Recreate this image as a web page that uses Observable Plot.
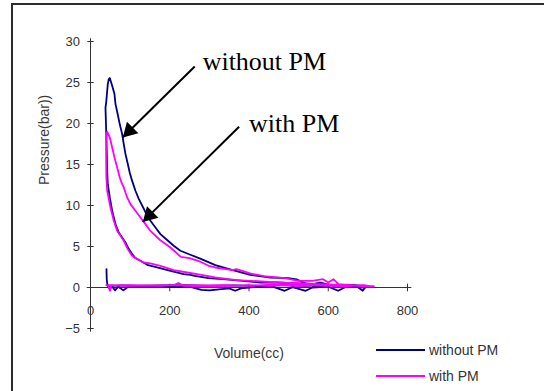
<!DOCTYPE html>
<html>
<head>
<meta charset="utf-8">
<script src="https://cdn.jsdelivr.net/npm/d3@7"></script>
<script src="https://cdn.jsdelivr.net/npm/@observablehq/plot@0.6"></script>
<style>
  body { margin: 0; background: #fff; }
  #wrap { position: relative; width: 544px; height: 391px; overflow: hidden; background: #fff; font-family: "Liberation Sans", Arial, sans-serif; }
  #frame { position: absolute; left: 11px; top: 3px; width: 600px; height: 500px; border-left: 2px solid #2b2b2b; border-top: 2px solid #2b2b2b; }
  #chart { position: absolute; left: 0; top: 0; }
  .leg { position: absolute; left: 376px; font-size: 14px; color: #333; }
  .leg .sw { position: absolute; left: 0; width: 49px; height: 2px; }
  .leg .lb { position: absolute; left: 53px; top: -9px; white-space: nowrap; line-height: 18px; }
</style>
</head>
<body>
<div id="wrap">
  <div id="frame"></div>
  <div id="chart"></div>
  <div id="legend"></div>
</div>
<script>
// ---- data (volume cc, pressure bar) ----
const seriesNames = ["without PM", "with PM"];
const seriesColors = ["#000080", "#ff00ff"];

const withoutPM = [
  [40.3,2.24],[41,1.0],[43,0.2],[48,-0.1],[55,0.1],[62,-0.35],[70,0.1],[83,-0.35],[95,0.1],[150,0.1],
  [200,0.15],[250,0.1],[280,-0.3],[300,-0.35],[330,-0.2],[350,-0.1],[365,-0.4],[380,-0.1],[420,0.1],
  [460,0.1],[490,-0.4],[510,0.05],[543,-0.4],[560,0.0],[600,0.1],[625,-0.4],[645,0.1],[670,0.2],[687,-0.4],[695,0.1],
  [692,0.2],[648,0.33],[604,0.33],[560,0.41],[517,0.49],[473,0.61],[429,0.61],[385,0.82],[342,0.98],[298,1.15],
  [263,1.43],[252,1.55],[235,1.63],[202,2.04],[168,2.44],[143,2.77],[126,3.26],[113.4,3.59],[105.1,4.07],
  [96.6,4.68],[88.2,5.49],[79.9,6.10],[71.3,6.71],[63,7.73],[54.7,9.35],[48.7,10.98],[43.6,12.6],[42.1,14.23],
  [41.6,15.45],[40.3,17.9],[37.8,21.95],[39.6,22.56],[43.6,24.8],[46.1,25.4],[48.7,25.54],
  [54.7,24.6],[60.5,23.6],[63,22.4],[68.8,21.1],[73.9,19.9],[79.9,18.7],[83.9,17.5],[88.2,16.3],[94,15.1],
  [99.1,14.0],[105.1,13.0],[113.4,11.8],[121.8,10.8],[132.9,9.76],[141.2,8.95],[151.3,8.13],[163.9,7.32],
  [176.5,6.51],[193.4,5.79],[210,5.09],[226.9,4.48],[252,3.99],[280,3.46],[315,2.73],[350,2.24],[403,1.55],
  [454,1.22],[499,1.15],[520,1.0],[542,0.49],[560,0.41],[580,0.6],[612,0.2],[648,0.2],[691,0.0],
  [670,0.3],[630,0.25],[590,0.3],[540,0.2],[480,0.3],[420,0.2],[360,0.25],[300,0.2],[240,0.3],[180,0.25],
  [120,0.2],[80,0.25],[50,0.2],[42,0.3]
];

const withPM = [
  [40,0.3],[45,0.2],[49,-0.4],[53,0.3],[80,0.2],[120,0.2],[180,0.2],[210,0.3],[222,0.55],[235,0.2],[300,0.15],
  [350,0.2],[400,0.3],[450,0.2],[500,0.35],[550,0.3],[600,0.2],[650,0.35],[690,0.1],[715,0.15],
  [695,0.2],[648,0.33],[578,0.41],[534,0.49],[473,0.61],[403,0.82],[368,0.9],[315,1.22],[280,1.55],[244,1.83],
  [210,2.12],[176.5,2.65],[151,2.93],[134,3.05],[118,3.46],[105,3.87],[94,4.68],[84,5.69],[75.6,6.3],[67.3,6.91],
  [58.7,8.13],[50.4,9.76],[42.1,11.8],[40,13.4],[39.5,15.5],[39.6,18.2],[42,19.0],
  [48.7,18.3],[54.7,17.07],[60.5,15.85],[67.3,14.63],[73.9,13.41],[77.4,12.9],[83.9,12.2],[92.5,10.98],
  [100.8,10.17],[113.4,9.35],[126.1,8.54],[138.7,7.73],[149.2,7.0],[175.5,5.79],[201.7,4.88],[227.9,3.74],
  [249.8,3.59],[271.8,3.26],[298,2.65],[315,2.44],[341.6,2.24],[359,2.12],[368,2.24],[377,2.12],[403,1.71],
  [438,1.39],[490,1.15],[525,0.81],[560,0.81],[587,1.02],[600,0.61],[613,1.02],[626,0.41],[648,0.33],
  [691,0.2],[713,0.1],
  [690,0.3],[640,0.15],[580,0.3],[520,0.2],[460,0.35],[400,0.2],[340,0.3],[280,0.25],[220,0.3],[160,0.25],
  [100,0.3],[60,0.25],[45,0.3]
];

const xTicks = [0, 200, 400, 600, 800];
const yTicks = [-5, 0, 5, 10, 15, 20, 25, 30];
const xTitle = "Volume(cc)";
const yTitle = "Pressure(bar))";

// annotations: label, label position, arrow start, arrow tip (data units)
const annotLabels = ["without PM", "with PM"];
const annotTextX = [283, 400];
const annotTextY = [27.5, 20.0];
const arrowFromX = [263, 375];
const arrowFromY = [26.95, 19.6];
const arrowToX = [81.2, 131.8];
const arrowToY = [18.3, 8.0];

// ---- build ----
const annots = annotLabels.map((t, i) => ({
  t, tx: annotTextX[i], ty: annotTextY[i],
  x1: arrowFromX[i], y1: arrowFromY[i], x2: arrowToX[i], y2: arrowToY[i]
}));

const axisColor = "#333";
const fmt = d => d < 0 ? "\u2212" + Math.abs(d) : String(d);

const chart = Plot.plot({
  width: 544,
  height: 391,
  marginLeft: 90,
  marginRight: 137,
  marginTop: 41,
  marginBottom: 63,
  x: { domain: [0, 800], axis: null },
  y: { domain: [-5, 30], axis: null },
  style: { fontFamily: "'Liberation Sans', Arial, sans-serif", background: "transparent", overflow: "visible" },
  marks: [
    Plot.ruleX([0], { y1: -5, y2: 30, stroke: axisColor, strokeWidth: 1 }),
    Plot.ruleY([0], { x1: 0, x2: 800, stroke: axisColor, strokeWidth: 1 }),
    Plot.dot(xTicks, { x: d => d, y: 0, symbol: "plus", r: 2.6, stroke: axisColor, strokeWidth: 1 }),
    Plot.dot(yTicks, { x: 0, y: d => d, symbol: "plus", r: 2.2, stroke: axisColor, strokeWidth: 1 }),
    Plot.text(xTicks, { x: d => d, y: 0, dy: 23.3, text: fmt, fontSize: 13, fill: axisColor }),
    Plot.text(yTicks, { x: 0, y: d => d, dx: -10.5, text: fmt, textAnchor: "end", fontSize: 13, fill: axisColor }),
    Plot.text([xTitle], { frameAnchor: "bottom", dy: 29.5, text: d => d, fontSize: 14, fill: "#3a3a3a" }),
    Plot.text([yTitle], { frameAnchor: "left", dx: -45.6, rotate: -90, text: d => d, fontSize: 14, fill: "#3a3a3a" }),
    Plot.line(withoutPM, { x: d => d[0], y: d => d[1], stroke: seriesColors[0], strokeWidth: 1.8 }),
    Plot.line(withPM, { x: d => d[0], y: d => d[1], stroke: seriesColors[1], strokeWidth: 1.8 }),
    Plot.link(annots, { x1: "x1", y1: "y1", x2: "x2", y2: "y2", stroke: "black", strokeWidth: 2 }),
    Plot.dot(annots, { x: "x2", y: "y2", symbol: "triangle", r: 6, fill: "black", stroke: "none", rotate: 225, dx: 6.7, dy: -6.6 }),
    Plot.text(annots, { x: "tx", y: "ty", text: "t", textAnchor: "start", fontFamily: "'Liberation Serif', 'Times New Roman', serif", fontSize: 26, fill: "black" })
  ]
});
document.getElementById("chart").appendChild(chart);

// legend (below/right of plot area)
const legend = document.getElementById("legend");
const legendY = [350, 376];
seriesNames.forEach((name, i) => {
  const row = document.createElement("div");
  row.className = "leg";
  row.style.top = legendY[i] + "px";
  row.innerHTML = `<div class="sw" style="background:${seriesColors[i]};top:-1px"></div><div class="lb">${name}</div>`;
  legend.appendChild(row);
});
</script>
</body>
</html>
